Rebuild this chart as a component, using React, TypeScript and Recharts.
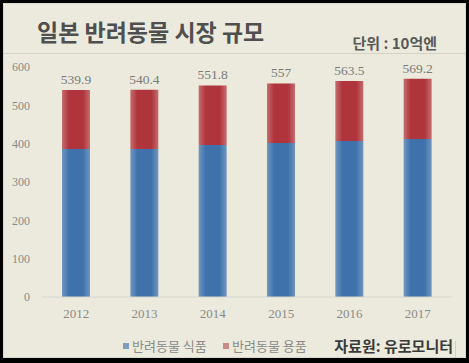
import { BarChart, Bar, XAxis, YAxis, LabelList } from "recharts";

const years = ["2012", "2013", "2014", "2015", "2016", "2017"];
const foodValues = [386, 386, 396.5, 402, 407, 412];
const totalValues = [539.9, 540.4, 551.8, 557, 563.5, 569.2];
const yTicks = [0, 100, 200, 300, 400, 500, 600];

const data = years.map((year, i) => ({
  year,
  food: foodValues[i],
  goods: +(totalValues[i] - foodValues[i]).toFixed(1),
  total: totalValues[i],
}));

const BG = "#ebeadd";
const KR = "'Noto Sans CJK KR', 'Noto Sans', sans-serif";
const SERIF = "'Liberation Serif', 'DejaVu Serif', serif";

const App = () => {
  return (
    <div style={{ position: "absolute", left: 0, top: 0, width: 469, height: 363, background: "#000" }}>
      <div
        style={{
          position: "absolute",
          left: 3,
          top: 3,
          width: 461,
          height: 353,
          background: BG,
          border: "1px solid #d9d8cc",
        }}
      />
      <div style={{ position: "absolute", left: 0, top: 0 }}>
        <BarChart width={469} height={330} data={data} margin={{ top: 67, right: 17, bottom: 0, left: 0 }}>
          <defs>
            <linearGradient id="gFood" x1="0" y1="0" x2="1" y2="0">
              <stop offset="0%" stopColor="#7097bf" />
              <stop offset="25%" stopColor="#3f72ab" />
              <stop offset="75%" stopColor="#3f72ab" />
              <stop offset="100%" stopColor="#7097bf" />
            </linearGradient>
            <linearGradient id="gGoods" x1="0" y1="0" x2="1" y2="0">
              <stop offset="0%" stopColor="#c46e6f" />
              <stop offset="25%" stopColor="#b0343b" />
              <stop offset="75%" stopColor="#b0343b" />
              <stop offset="100%" stopColor="#c46e6f" />
            </linearGradient>
          </defs>
          <XAxis
            dataKey="year"
            height={33}
            tickLine={false}
            tickSize={0}
            tickMargin={12}
            axisLine={{ stroke: "#d6d6cb" }}
            tick={{ fill: "#8a8a8a", fontSize: 13, fontFamily: SERIF }}
          />
          <YAxis
            width={42}
            domain={[0, 600]}
            ticks={yTicks}
            axisLine={false}
            tickLine={false}
            tickSize={0}
            tickMargin={12}
            tick={{ fill: "#8a8a8a", fontSize: 12, fontFamily: SERIF }}
          />
          <Bar dataKey="food" stackId="a" barSize={28} fill="url(#gFood)" isAnimationActive={false} />
          <Bar dataKey="goods" stackId="a" barSize={28} fill="url(#gGoods)" isAnimationActive={false}>
            <LabelList dataKey="total" position="top" offset={6} fill="#7a7a7a" fontSize={13.5} fontFamily={SERIF} />
          </Bar>
        </BarChart>
      </div>
      <svg width={469} height={363} style={{ position: "absolute", left: 0, top: 0, pointerEvents: "none" }}>
        <line x1={3} x2={466} y1={53.5} y2={53.5} stroke="#d3d2c5" />
        <text x={37} y={41} fontFamily={KR} fontSize={23} fontWeight={700} fill="#4f4f4f">
          일본 반려동물 시장 규모
        </text>
        <text x={437} y={49} textAnchor="end" fontFamily={KR} fontSize={15} fontWeight={700} fill="#595959">
          단위 : 10억엔
        </text>
        <rect x={123} y={343} width={6} height={6} fill="#7d9db9" />
        <text x={132} y={351} fontFamily={KR} fontSize={13} fill="#8a8a8a">
          반려동물 식품
        </text>
        <rect x={223} y={343} width={6} height={6} fill="#c58b86" />
        <text x={232} y={351} fontFamily={KR} fontSize={13} fill="#8a8a8a">
          반려동물 용품
        </text>
        <text x={453} y={352} textAnchor="end" fontFamily={KR} fontSize={15} fontWeight={700} fill="#3a3a3a">
          자료원: 유로모니터
        </text>
        <line x1={455.5} x2={455.5} y1={341} y2={357} stroke="#cfcfc3" />
      </svg>
    </div>
  );
};

export default App;
